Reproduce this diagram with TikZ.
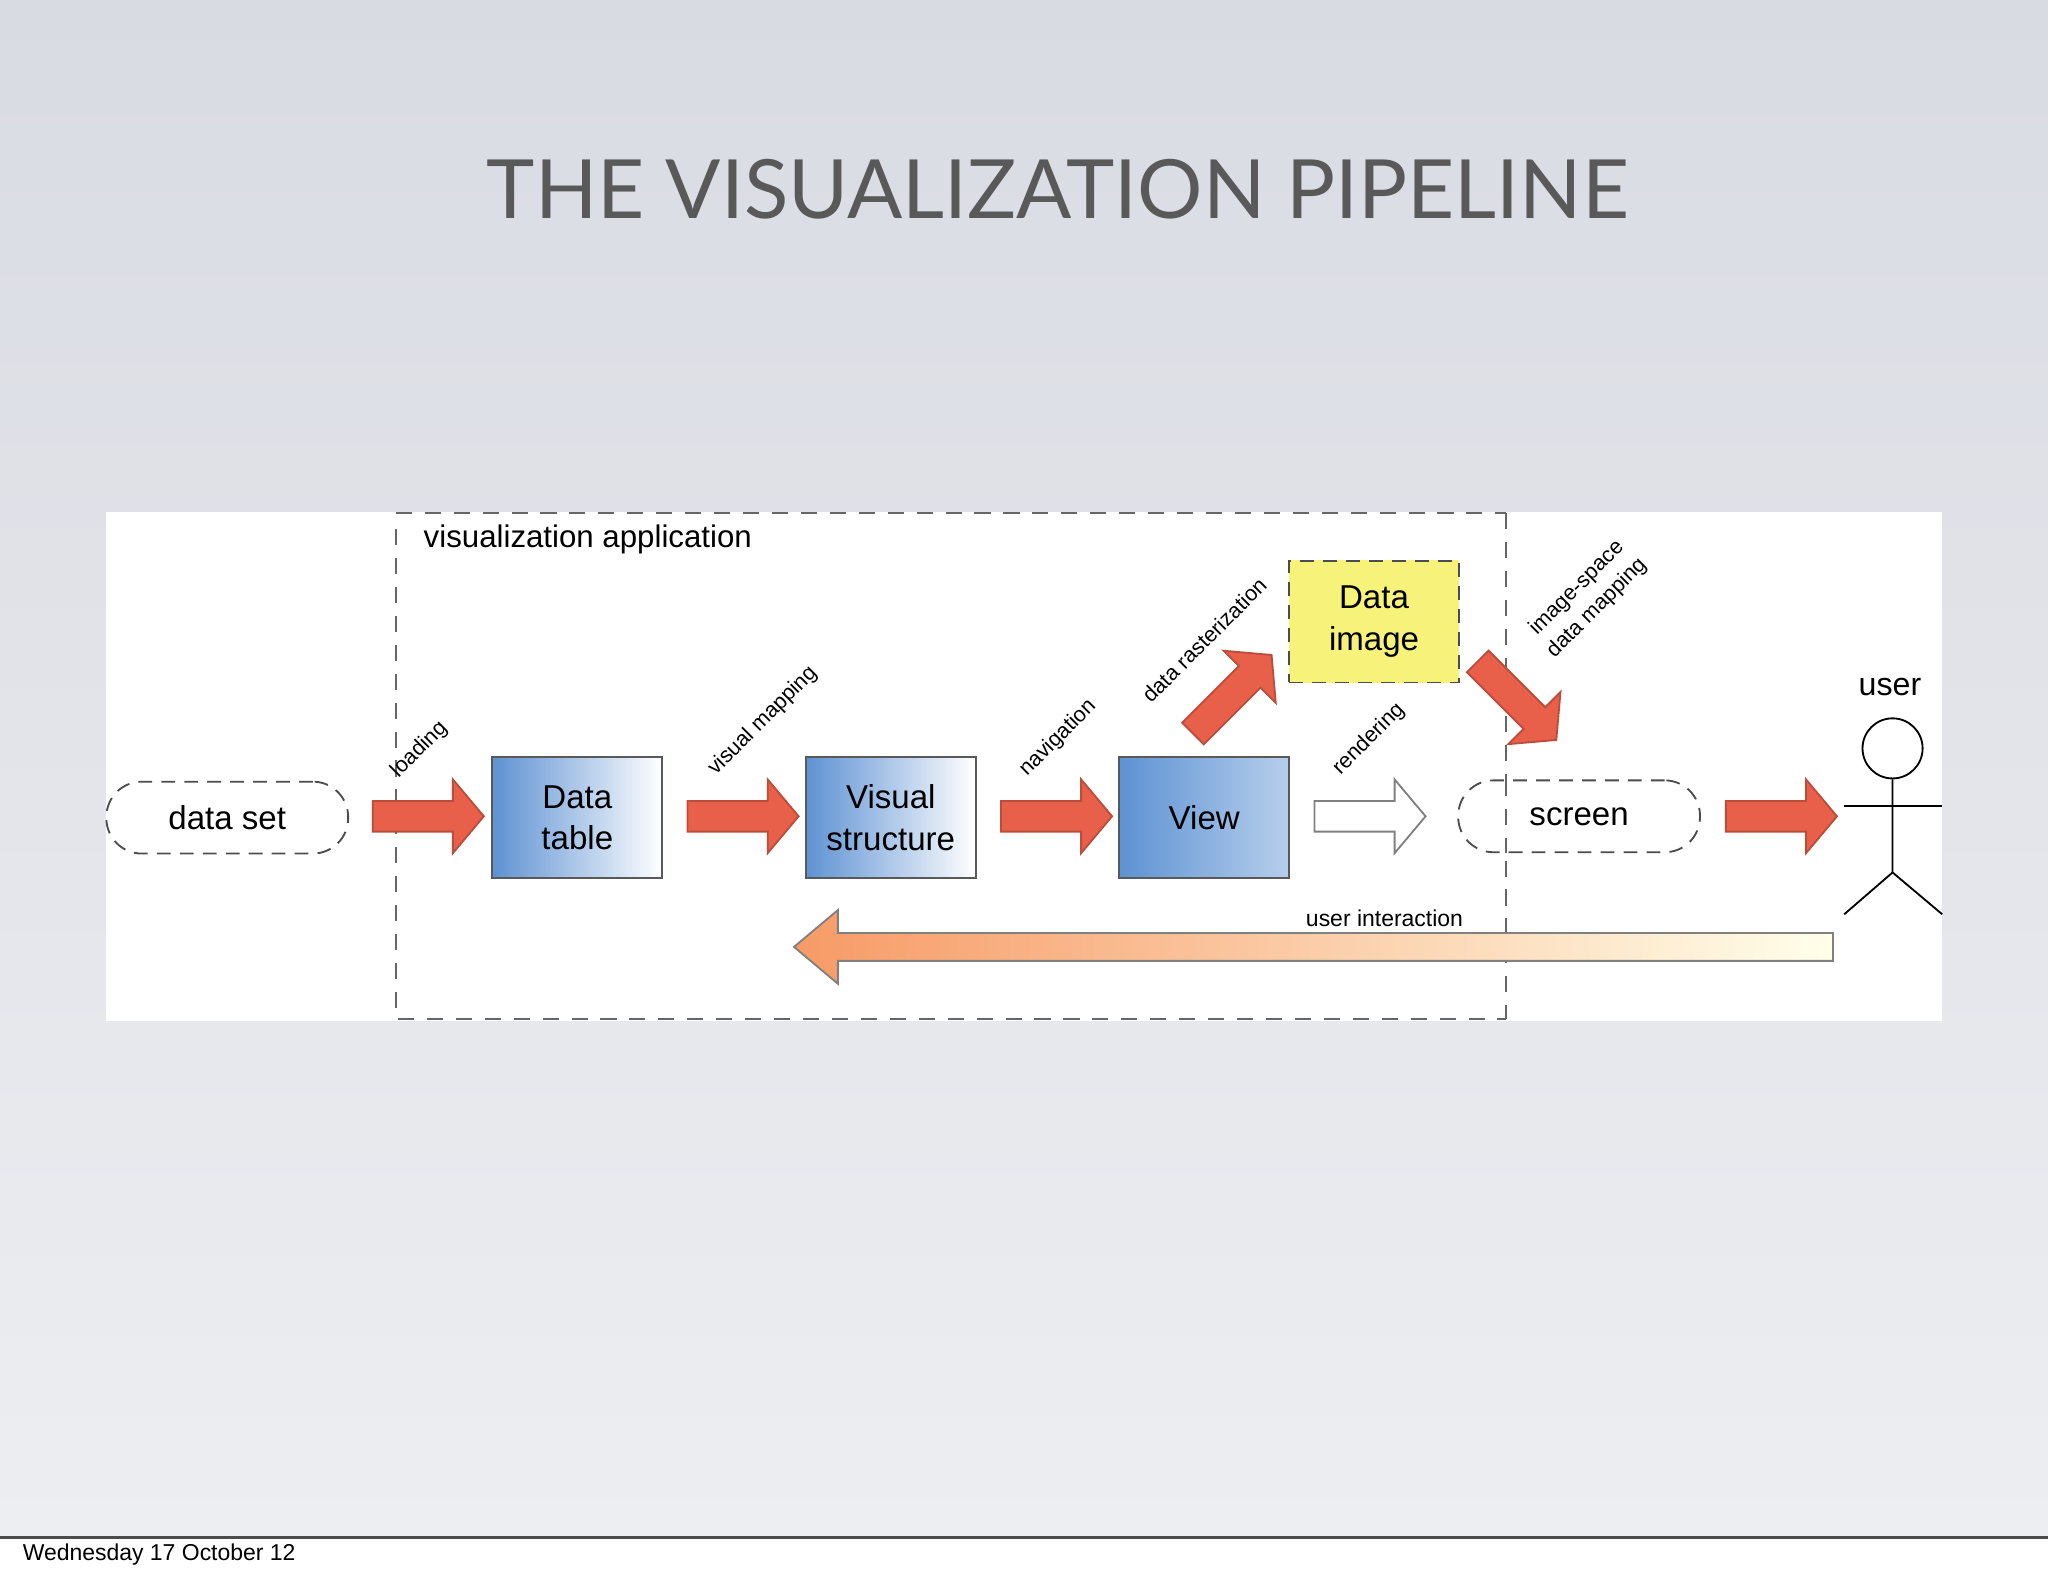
\documentclass[tikz,border=0pt]{standalone}
\usepackage{fontspec}
\setmainfont{Liberation Sans}
\newfontfamily\titlefont{Lato}
\usetikzlibrary{positioning,shapes.arrows,arrows.meta}
\definecolor{slidetop}{HTML}{D9DBE3}
\definecolor{slidebot}{HTML}{EDEEF1}
\definecolor{redarrow}{HTML}{E8604A}
\definecolor{boxblue}{HTML}{5E92D3}
\definecolor{imgyellow}{HTML}{F6F27A}
\tikzset{
  blockarrow/.style={single arrow,draw=redarrow!80!black,fill=redarrow,
    minimum width=.55cm,minimum height=.85cm,inner xsep=0pt,inner ysep=.11cm,
    single arrow head extend=.165cm,single arrow tip angle=100},
  stage/.style={draw=gray!70!black,minimum width=1.3cm,minimum height=.93cm,
    align=center,font=\fontsize{7.2}{9}\selectfont,
    left color=boxblue,right color=white},
  pill/.style={draw=black!70,dashed,dash pattern=on 3pt off 2pt,rounded corners=.27cm,
    minimum height=.55cm,minimum width=1.85cm,font=\fontsize{7.2}{9}\selectfont},
  steplabel/.style={rotate=45,font=\fontsize{4.7}{6.2}\selectfont,align=center},
  appline/.style={black!60,dash pattern=on 3.5pt off 2.8pt},
}
\begin{document}
\begin{tikzpicture}[x=0.01cm,y=-0.01cm]
% slide background and footer
\useasboundingbox (0,0) rectangle (1568,1207);
\shade[top color=slidetop,bottom color=slidebot] (0,0) rectangle (1568,1177);
\fill[white] (0,1177) rectangle (1568,1207);
\draw[black!70,line width=.6pt] (0,1177) -- (1568,1177);
\node[anchor=west,font=\fontsize{5}{6}\selectfont] (date) at (5,1190) {Wednesday 17 October 12};
\node[font=\titlefont\fontsize{17.8}{21}\selectfont,text=black!65] (title) at (810,145) {THE VISUALIZATION PIPELINE};
% white panel
\fill[white] (81,392) rectangle (1487,782);
\draw[appline] (303,393) -- (1153,393);
\draw[appline] (303,405) -- (303,780) -- (1153,780);
\draw[appline] (1153,393) -- (1153,780);
\node[anchor=west,font=\fontsize{6.8}{8}\selectfont] (app) at (312,413) {visualization application};
% stages
\node[pill] (dataset) at (174,626) {data set};
\node[stage] (table) at (442,626) {Data\\table};
\node[stage] (visual) at (682,626) {Visual\\structure};
\node[stage,right color=boxblue!45] (view) at (922,626) {View};
\node[stage,draw=black!70,dashed,dash pattern=on 3pt off 2pt,left color=imgyellow,right color=imgyellow] (image) at (1052,476) {Data\\image};
\node[pill,fill=white] (screen) at (1209,625) {screen};
\draw[appline] (1153,597) -- (1153,653);
% block arrows
\node[blockarrow] (aload) at (323,625) {};
\node[blockarrow] (amap) at (564,625) {};
\node[blockarrow] (anav) at (804,625) {};
\node[blockarrow,fill=white,draw=black!50] (arend) at (1044,625) {};
\node[blockarrow] (auser) at (1359,625) {};
\node[blockarrow,rotate=45] (araster) at (940,535) {};
\node[blockarrow,rotate=-45] (aspace) at (1158,533) {};
% labels
\node[steplabel] (lload) at (321,574) {loading};
\node[steplabel] (lmap) at (584,552) {visual mapping};
\node[steplabel] (lnav) at (810,565) {navigation};
\node[steplabel] (lraster) at (922,490) {data rasterization};
\node[steplabel] (lrend) at (1048,566) {rendering};
\node[steplabel] (lspace) at (1215,458) {image-space\\data mapping};
% user
\node[font=\fontsize{7}{8}\selectfont] (user) at (1447,526) {user};
\node[draw,circle,minimum size=.46cm,inner sep=0pt] (head) at (1449,573) {};
\coordinate (hip) at (1449,668);
\draw (head.south) -- (hip) -- (1412,700);
\draw (hip) -- (1487,700);
\draw (1412,617) -- (1487,617);
% interaction
\node[single arrow,shape border rotate=180,draw=black!50,left color=redarrow!50!orange!70,
  right color=yellow!8,minimum width=.55cm,minimum height=7.95cm,inner xsep=0pt,inner ysep=.1cm,
  single arrow head extend=.175cm,single arrow tip angle=80] (ainter) at (1012,725) {};
\node[font=\fontsize{5}{6}\selectfont] (linter) at (1060,703) {user interaction};
\end{tikzpicture}
\end{document}
